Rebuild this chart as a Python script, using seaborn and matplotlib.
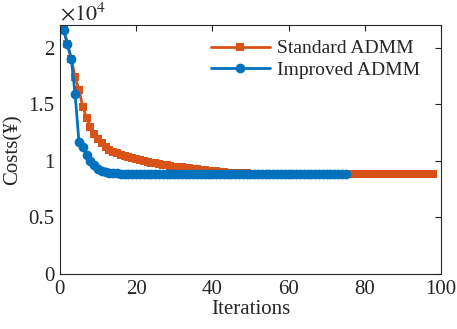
import matplotlib
matplotlib.use('Agg')
import matplotlib.pyplot as plt
import seaborn as sns
import pandas as pd
from matplotlib.ticker import FuncFormatter, MultipleLocator

# costs per iteration (yuan)
standard_cost = [21600, 20300, 19000, 17400, 16300, 14800, 13800, 13000, 12400, 11900,
                 11550, 11250, 11000, 10800, 10650, 10550, 10450, 10350, 10250, 10150,
                 10050, 9970, 9900, 9830, 9770, 9710, 9650, 9600, 9550, 9500,
                 9460, 9420, 9380, 9340, 9300, 9260, 9220, 9180, 9140, 9100,
                 9060, 9020, 8990, 8960, 8940, 8920, 8910, 8900, 8890, 8880,
                 8878, 8876, 8875, 8874, 8873, 8872, 8872, 8871, 8871, 8870,
                 8870, 8870, 8870, 8870, 8870, 8870, 8870, 8870, 8870, 8870,
                 8870, 8870, 8870, 8870, 8870, 8870, 8870, 8870, 8870, 8870,
                 8870, 8870, 8870, 8870, 8870, 8870, 8870, 8870, 8870, 8870,
                 8870, 8870, 8870, 8870, 8870, 8870, 8870, 8870]
improved_cost = [21600, 20300, 19000, 15900, 11700, 11200, 10500, 10000, 9600, 9300,
                 9100, 9000, 8930, 8900, 8885, 8880, 8878, 8878, 8880, 8880,
                 8880, 8880, 8880, 8880, 8880, 8880, 8880, 8880, 8880, 8880,
                 8880, 8880, 8880, 8880, 8880, 8880, 8880, 8880, 8880, 8880,
                 8880, 8880, 8880, 8880, 8880, 8880, 8880, 8880, 8880, 8880,
                 8880, 8880, 8880, 8880, 8880, 8880, 8880, 8880, 8880, 8880,
                 8880, 8880, 8880, 8880, 8880, 8880, 8880, 8880, 8880, 8880,
                 8880, 8880, 8880, 8880, 8880]

df_std = pd.DataFrame({'iter': range(1, len(standard_cost) + 1), 'cost': standard_cost})
df_imp = pd.DataFrame({'iter': range(1, len(improved_cost) + 1), 'cost': improved_cost})
df_std['cost'] /= 1e4
df_imp['cost'] /= 1e4

sns.set_style('white')
plt.rcParams['font.family'] = ['Liberation Serif', 'DejaVu Serif']
plt.rcParams['mathtext.fontset'] = 'stix'

fig = plt.figure(figsize=(4.57, 3.29), dpi=100)
ax = fig.add_axes([0.131, 0.167, 0.834, 0.757])

sns.lineplot(data=df_std, x='iter', y='cost', color='#D95319', lw=2, marker='s',
             markersize=5.5, markeredgewidth=0, label='Standard ADMM', ax=ax)
sns.lineplot(data=df_imp, x='iter', y='cost', color='#0072BD', lw=2, marker='o',
             markersize=7, markeredgewidth=0, label='Improved ADMM', ax=ax)

ax.set_xlim(0, 100)
ax.set_ylim(0, 2.2)
ax.xaxis.set_major_locator(MultipleLocator(20))
ax.yaxis.set_major_locator(MultipleLocator(0.5))
ax.yaxis.set_major_formatter(FuncFormatter(lambda v, p: '%g' % v))
ax.set_xlabel('Iterations', fontsize=15, labelpad=1)
ax.set_ylabel('Costs(\u00a5)', fontsize=15, labelpad=4)
ax.tick_params(direction='in', top=True, right=True, labelsize=15, length=4,
               width=0.8, color='#262626', pad=4)
for s in ax.spines.values():
    s.set_color('#262626')
    s.set_linewidth(0.8)
ax.text(0.0, 1.0, r'$\times10^4$', transform=ax.transAxes, fontsize=16,
        ha='left', va='bottom')

leg = ax.legend(loc='upper right', bbox_to_anchor=(0.982, 0.995), frameon=False,
                fontsize=14, handlelength=3.0, borderaxespad=0.3,
                labelspacing=0.2, handletextpad=0.4)

plt.savefig('out.png', dpi=100)
plt.close()
